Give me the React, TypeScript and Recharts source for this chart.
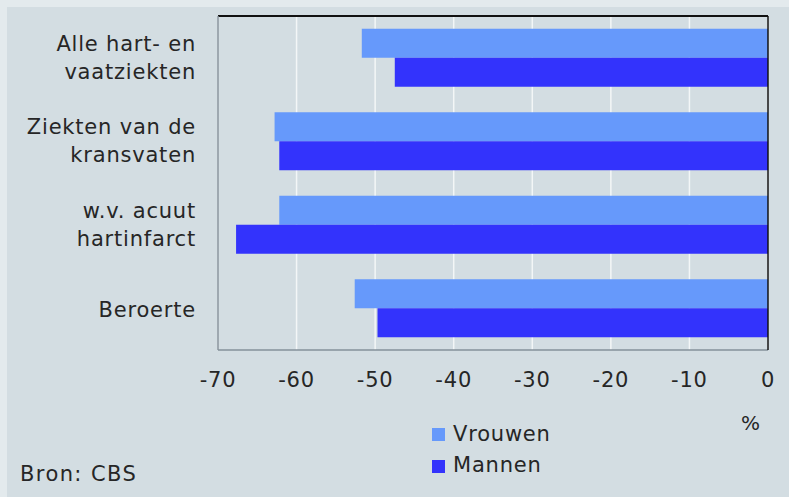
import React from "react";
import { BarChart, Bar, XAxis, YAxis, CartesianGrid } from "recharts";

const categories = [
  "Alle hart- en\nvaatziekten",
  "Ziekten van de\nkransvaten",
  "w.v. acuut\nhartinfarct",
  "Beroerte",
];
const vrouwen = [-51.7, -62.8, -62.2, -52.6];
const mannen = [-47.5, -62.2, -67.7, -49.7];
const xTicks = [-70, -60, -50, -40, -30, -20, -10, 0];
const seriesNames = ["Vrouwen", "Mannen"];
const seriesColors = ["#6699fb", "#3333fc"];
const unitLabel = "%";
const sourceLabel = "Bron: CBS";

const data = categories.map((name, i) => ({
  name,
  Vrouwen: vrouwen[i],
  Mannen: mannen[i],
}));

const FONT = "'DejaVu Sans', Verdana, sans-serif";
const TEXT = "#262626";

const CategoryTick = (props: any) => {
  const { x, y, payload } = props;
  const lines: string[] = String(payload.value).split("\n");
  const offsets = lines.length === 1 ? [8.5] : [-7, 21];
  return (
    <text
      x={x}
      y={y}
      textAnchor="end"
      fontSize={21}
      letterSpacing={0.8}
      fill={TEXT}
      fontFamily={FONT}
    >
      {lines.map((l, i) => (
        <tspan key={i} x={x} y={y + offsets[i]}>
          {l}
        </tspan>
      ))}
    </text>
  );
};

export default function App() {
  return (
    <div
      style={{
        position: "absolute",
        left: 0,
        top: 0,
        width: 789,
        height: 497,
        background: "#e3eaed",
        overflow: "hidden",
      }}
    >
      <div
        style={{
          position: "absolute",
          left: 7,
          top: 7,
          width: 782,
          height: 490,
          background: "#d3dde2",
        }}
      />
      <div style={{ position: "absolute", left: 0, top: 0 }}>
        <BarChart
          width={789}
          height={497}
          data={data}
          layout="vertical"
          margin={{ top: 15, right: 20, bottom: 107, left: 0 }}
          barCategoryGap={12.75}
          barGap={0}
        >
          <CartesianGrid
            horizontal={false}
            stroke="#f3f6f7"
            strokeWidth={1.5}
          />
          <XAxis
            type="number"
            domain={[-70, 0]}
            ticks={xTicks}
            height={40}
            tickLine={false}
            tickSize={0}
            tickMargin={22}
            axisLine={{ stroke: "#85909a", strokeWidth: 1.5 }}
            tick={{
              fontSize: 21,
              fill: TEXT,
              fontFamily: FONT,
              letterSpacing: 0.8,
            }}
            interval={0}
          />
          <XAxis
            xAxisId="top"
            orientation="top"
            type="number"
            domain={[-70, 0]}
            height={1}
            tick={false}
            tickLine={false}
            axisLine={{ stroke: "#111", strokeWidth: 2 }}
          />
          <YAxis
            type="category"
            dataKey="name"
            width={218}
            tickLine={false}
            tickSize={0}
            tickMargin={22}
            axisLine={{ stroke: "#85909a", strokeWidth: 1.5 }}
            tick={<CategoryTick />}
            interval={0}
          />
          <YAxis
            yAxisId="right"
            orientation="right"
            type="category"
            dataKey="name"
            width={1}
            tick={false}
            tickLine={false}
            axisLine={{ stroke: "#111", strokeWidth: 1.5 }}
          />
          <Bar
            dataKey="Vrouwen"
            fill={seriesColors[0]}
            isAnimationActive={false}
          />
          <Bar
            dataKey="Mannen"
            fill={seriesColors[1]}
            isAnimationActive={false}
          />
        </BarChart>
      </div>
      <svg
        width={789}
        height={497}
        style={{ position: "absolute", left: 0, top: 0, pointerEvents: "none" }}
      >
        {seriesNames.map((n, i) => (
          <g key={n}>
            <rect
              x={432}
              y={428 + i * 32}
              width={13}
              height={13}
              fill={seriesColors[i]}
            />
            <text
              x={453}
              y={440.5 + i * 31.5}
              fontSize={21}
              letterSpacing={0.8}
              fill={TEXT}
              fontFamily={FONT}
            >
              {n}
            </text>
          </g>
        ))}
        <text x={741} y={430} fontSize={20} fill={TEXT} fontFamily={FONT}>
          {unitLabel}
        </text>
        <text
          x={20}
          y={481}
          fontSize={21}
          letterSpacing={1.4}
          fill={TEXT}
          fontFamily={FONT}
        >
          {sourceLabel}
        </text>
      </svg>
    </div>
  );
}
